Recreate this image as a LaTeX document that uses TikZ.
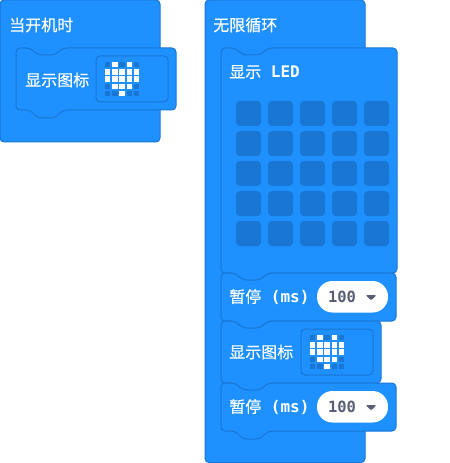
\documentclass[tikz,border=0pt]{standalone}
\usepackage{fontspec}
\newfontfamily\cjk[FakeBold=0.4]{Noto Sans CJK SC}
\newfontfamily\mono{DejaVu Sans Mono}
\definecolor{blockblue}{HTML}{1E90FF}
\definecolor{blockedge}{HTML}{1976D2}
\definecolor{numgray}{HTML}{575E75}
\tikzset{
  block/.style={fill=blockblue,draw=blockedge,line width=0.75pt,rounded corners=3pt},
  label/.style={anchor=west,inner sep=0pt,text=white,font=\cjk\fontsize{12}{14}\selectfont},
  num/.style={inner sep=0pt,text=numgray,font=\mono\bfseries\fontsize{11.6}{13}\selectfont}
}
% block with notch: left, top, right, bottom
\newcommand{\stack}[4]{
\draw[block] (#1,#2) -- ({#1+14},#2) -- ({#1+22},{#2+7}) -- ({#1+39},{#2+7}) -- ({#1+47},#2) -- (#3,#2)
  -- (#3,#4) -- ({#1+47},#4) -- ({#1+39},{#4+8}) -- ({#1+22},{#4+8}) -- ({#1+14},#4) -- (#1,#4) -- cycle;
}
% icon field with heart
\newcommand{\heart}[2]{
\draw[block] (#1,#2) rectangle ({#1+72},{#2+46});
\foreach \i in {0,...,4} \foreach \j in {0,...,4}
  \fill[blockedge] ({#1+9+7.2*\i},{#2+6+7.2*\j}) rectangle +(5.4,5.4);
\foreach \i/\j in {1/0,3/0,0/1,1/1,2/1,3/1,4/1,0/2,1/2,2/2,3/2,4/2,1/3,2/3,3/3,2/4}
  \fill[white] ({#1+9+7.2*\i},{#2+6+7.2*\j}) rectangle +(5.4,5.4);
}
% pause line: top of the block, node names
\newcommand{\pause}[3]{
\stack{221}{#1}{396}{#1+48}
\node[label] (#2) at (229,{#1+24}) {暂停{\mono\bfseries\ (ms)}};
\fill[white,rounded corners=11.6pt] (317,{#1+8}) rectangle (388,{#1+39.5});
\node[num] (#3) at (342,{#1+24}) {100};
\fill[numgray,rounded corners=1pt] (365.5,{#1+22}) -- (376.5,{#1+22}) -- (371,{#1+27.5}) -- cycle;
}
\begin{document}
\begin{tikzpicture}[x=0.75pt,y=-0.75pt]
\useasboundingbox (0,0) rectangle (449,463);
% left stack
\draw[block] (0,0) rectangle (160,142);
\node[label] (start) at (9,25) {当开机时};
\stack{16}{48}{176}{110}
\node[label] (showicona) at (25,80) {显示图标};
\heart{96}{56}
% right stack
\draw[block] (205,0) rectangle (365,462.5);
\node[label] (forever) at (213,25) {无限循环};
\stack{221}{48}{397}{273}
\node[label] (showled) at (229,72) {显示{\mono\bfseries\ LED}};
\foreach \x in {0,...,4} \foreach \y in {0,...,4}
  \fill[blockedge,rounded corners=3pt] ({236+32*\x},{101+30*\y}) rectangle +(25,25);
\pause{273}{pausea}{valuea}
\stack{221}{321}{381}{383}
\node[label] (showiconb) at (229,352) {显示图标};
\heart{301}{329}
\pause{383}{pauseb}{valueb}
\end{tikzpicture}
\end{document}
